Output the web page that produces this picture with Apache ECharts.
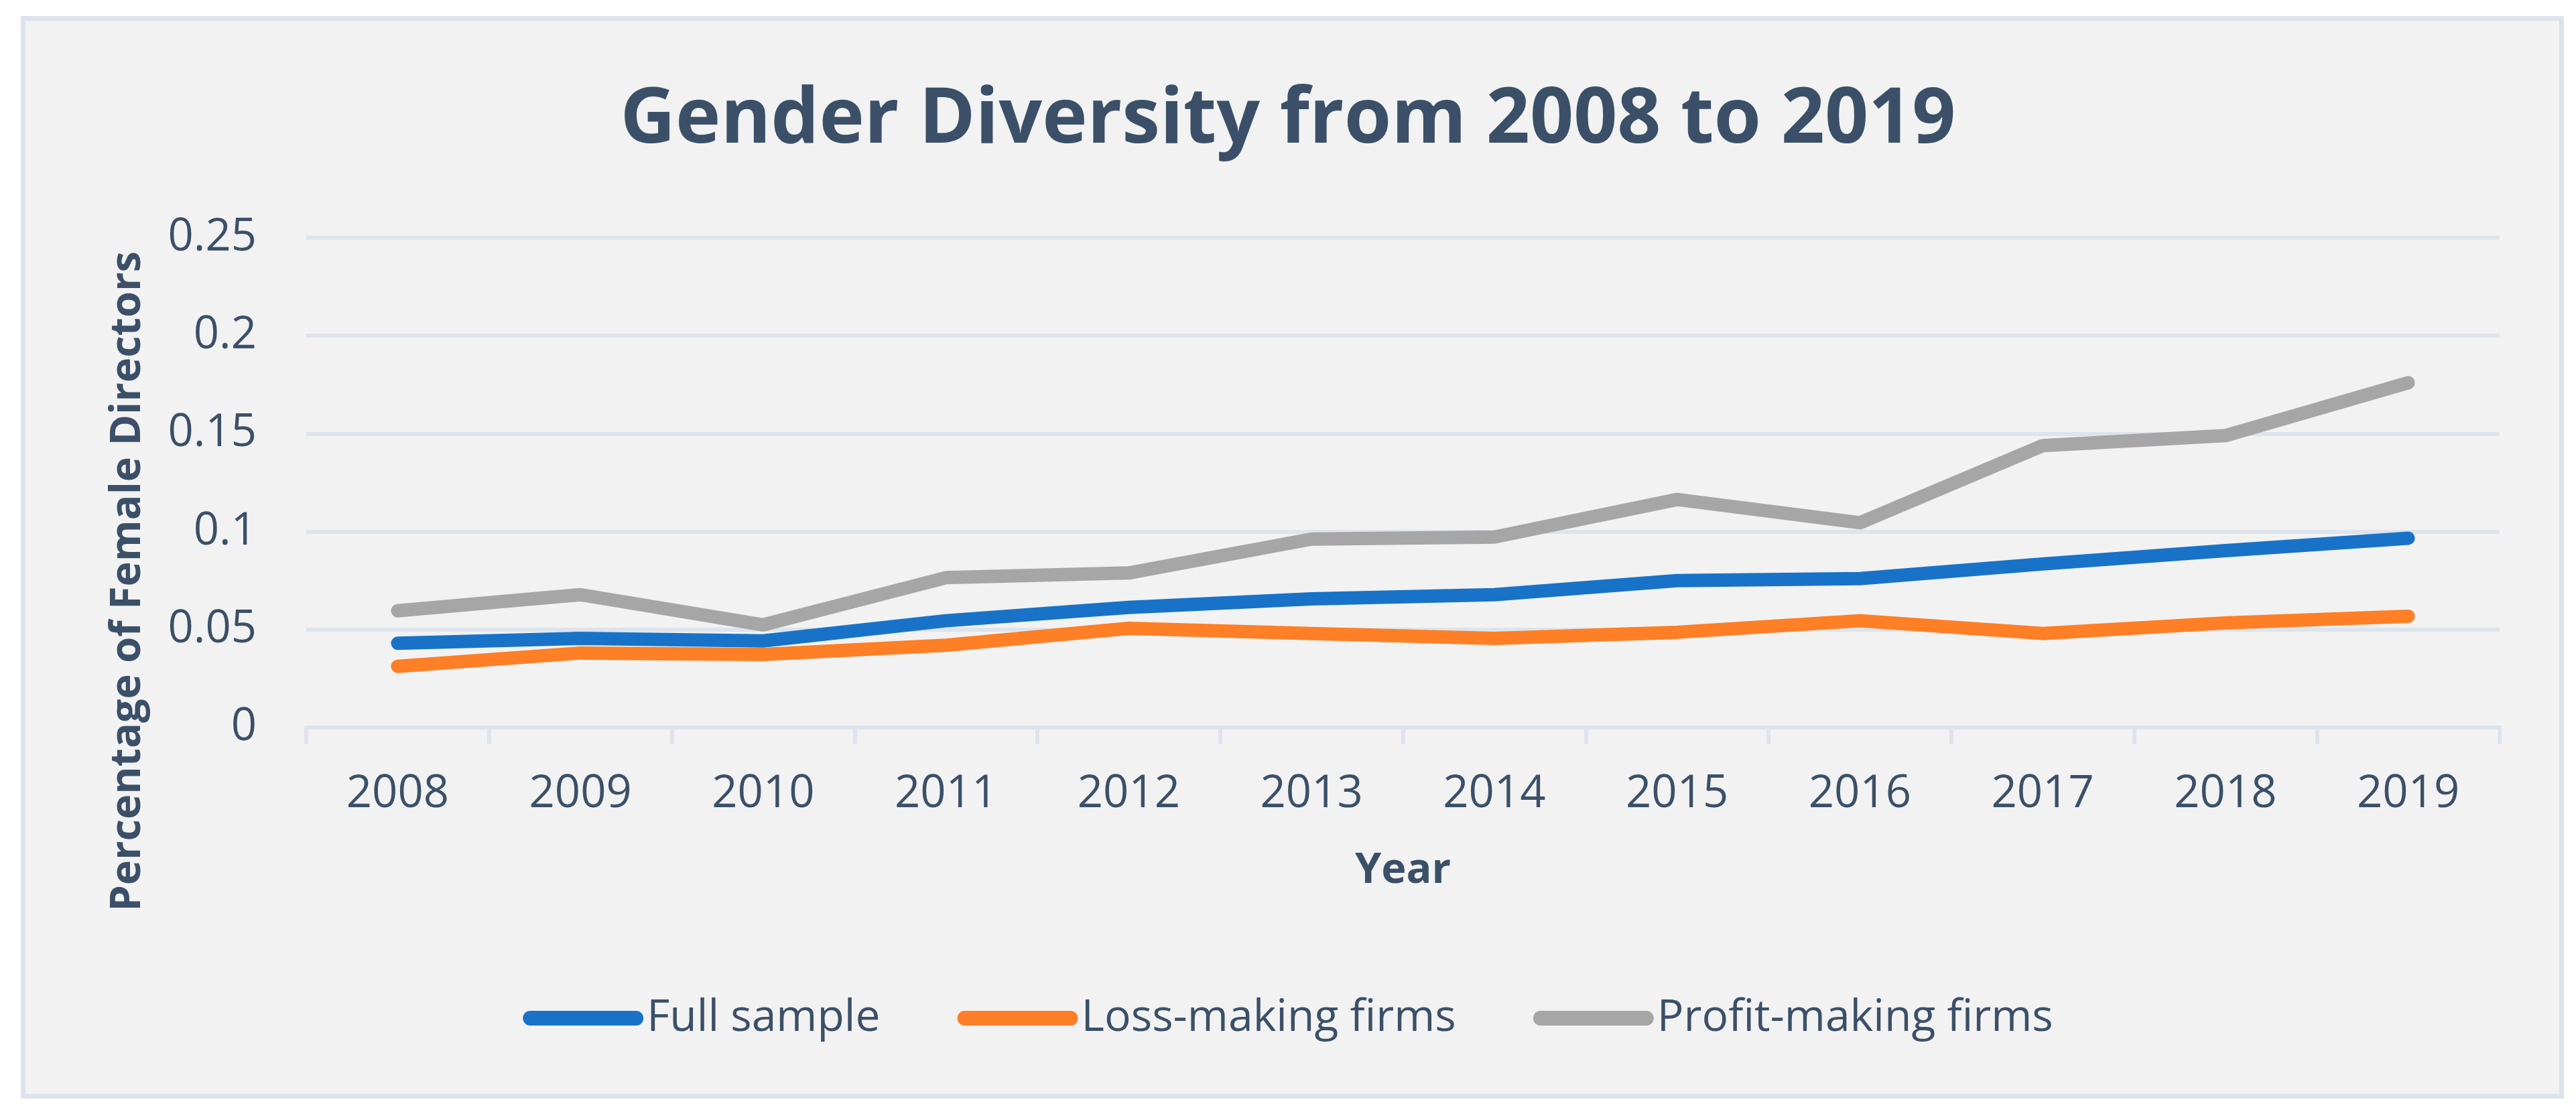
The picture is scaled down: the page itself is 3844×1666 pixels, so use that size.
<!DOCTYPE html>
<html>
<head>
<meta charset="utf-8">
<script src="https://cdn.jsdelivr.net/npm/echarts@6/dist/echarts.min.js"></script>
<style>
html,body{margin:0;padding:0;background:#ffffff;}
#chart{width:3844px;height:1666px;}
</style>
</head>
<body>
<div id="chart"></div>
<script>
const years = ['2008','2009','2010','2011','2012','2013','2014','2015','2016','2017','2018','2019'];
const fullSample = [0.043, 0.0455, 0.0442, 0.0545, 0.0613, 0.0657, 0.0678, 0.075, 0.076, 0.0835, 0.0903, 0.0966];
const lossMaking = [0.0312, 0.038, 0.0373, 0.042, 0.0506, 0.048, 0.0455, 0.0486, 0.0545, 0.048, 0.0534, 0.0568];
const profitMaking = [0.0596, 0.0678, 0.0524, 0.0765, 0.0789, 0.0962, 0.0972, 0.1164, 0.1045, 0.1439, 0.149, 0.176];
const seriesNames = ['Full sample', 'Loss-making firms', 'Profit-making firms'];
const titleText = 'Gender Diversity from 2008 to 2019';
const yTitle = 'Percentage of Female Directors';
const xTitle = 'Year';

const textColor = '#3b5068';
const gridColor = '#dde4ec';
const FONT = '"Open Sans", "Noto Sans", sans-serif';
const colors = ['#1873c8', '#fe7f26', '#a6a6a6'];

const chart = echarts.init(document.getElementById('chart'), null, {renderer: 'canvas'});
const legendIcon = 'path://M11,0 L169,0 A11,11 0 0 1 169,22 L11,22 A11,11 0 0 1 11,0 Z';

function lineSeries(name, data, color) {
  return {
    name: name,
    type: 'line',
    data: data,
    symbol: 'none',
    smooth: false,
    color: color,
    lineStyle: {color: color, width: 20, cap: 'round', join: 'round'},
    emphasis: {disabled: true},
    animation: false
  };
}

chart.setOption({
  backgroundColor: 'transparent',
  animation: false,
  graphic: [
    {
      type: 'rect', z: -10, silent: true,
      shape: {x: 34.5, y: 27.5, width: 3788, height: 1609},
      style: {fill: '#f2f2f2', stroke: '#dce3eb', lineWidth: 7}
    },
    {
      type: 'text', silent: true,
      x: 191, y: 868, rotation: Math.PI / 2,
      style: {
        text: yTitle, fill: textColor,
        font: 'bold 63px ' + FONT,
        textAlign: 'center', textVerticalAlign: 'middle'
      }
    }
  ],
  title: {
    text: titleText,
    left: 'center',
    top: 124,
    padding: 0,
    textStyle: {color: textColor, fontFamily: FONT, fontWeight: 'bold', fontSize: 114}
  },
  legend: {
    data: seriesNames,
    left: 'center',
    top: 1482,
    itemWidth: 180,
    itemHeight: 22,
    itemGap: 115,
    icon: legendIcon,
    textStyle: {color: textColor, fontFamily: FONT, fontSize: 66}
  },
  grid: {
    left: 457, right: 114, top: 355, bottom: 580,
    containLabel: false,
    outerBoundsMode: 'none'
  },
  xAxis: {
    type: 'category',
    data: years,
    boundaryGap: true,
    name: xTitle,
    nameLocation: 'middle',
    nameGap: 183,
    nameTextStyle: {color: textColor, fontFamily: FONT, fontWeight: 'bold', fontSize: 63},
    axisLine: {show: true, lineStyle: {color: gridColor, width: 6}},
    axisTick: {show: true, alignWithLabel: false, length: 25, lineStyle: {color: gridColor, width: 6}},
    axisLabel: {color: textColor, fontFamily: FONT, fontSize: 67, margin: 66, interval: 0},
    splitLine: {show: false}
  },
  yAxis: {
    type: 'value',
    min: 0,
    max: 0.25,
    interval: 0.05,
    axisLine: {show: false},
    axisTick: {show: false},
    axisLabel: {color: textColor, fontFamily: FONT, fontSize: 67, margin: 74},
    splitLine: {show: true, lineStyle: {color: gridColor, width: 6}}
  },
  series: [
    lineSeries(seriesNames[0], fullSample, colors[0]),
    lineSeries(seriesNames[1], lossMaking, colors[1]),
    lineSeries(seriesNames[2], profitMaking, colors[2])
  ]
});
</script>
</body>
</html>
